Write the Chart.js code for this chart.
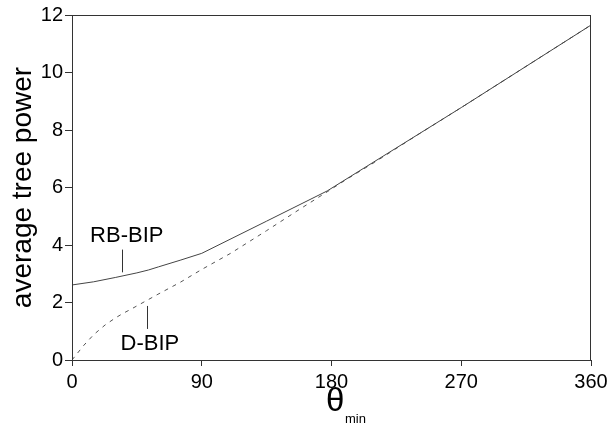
<!DOCTYPE html>
<html>
<head>
<meta charset="utf-8">
<script src="https://cdn.jsdelivr.net/npm/chart.js@4/dist/chart.umd.min.js"></script>
<style>
  html, body { margin: 0; padding: 0; background: #fff; }
  #wrap { width: 609px; height: 428px; }
</style>
</head>
<body>
<div id="wrap"><canvas id="treeChart" width="609" height="428"></canvas></div>
<script>
// values
const rbTheta = [0, 15, 30, 45, 53, 60, 75, 90, 135, 177, 270, 360];
const rbPower = [2.61, 2.72, 2.87, 3.03, 3.13, 3.24, 3.47, 3.71, 4.83, 5.88, 8.78, 11.65];

const dTheta = [0, 8, 15, 23, 30, 35, 41, 50, 59, 75, 90, 110, 135, 160, 177, 190, 210, 240, 270, 360];
const dPower = [0, 0.5, 0.88, 1.22, 1.46, 1.61, 1.77, 2.02, 2.27, 2.7, 3.15, 3.71, 4.5, 5.31, 5.85, 6.27, 6.88, 7.84, 8.78, 11.65];

const xTicks = [0, 90, 180, 270, 360];
const yTicks = [0, 2, 4, 6, 8, 10, 12];

// label text, anchor in data units, leader line ends in data units
const labels = [
  { text: "RB-BIP", x: 38, y: 4.3, lx: 34.5, ly1: 3.84, ly2: 3.05 },
  { text: "D-BIP", x: 54, y: 0.55, lx: 52, ly1: 1.88, ly2: 1.08 }
];

const FONT = "'Liberation Sans', Arial, Helvetica, sans-serif";

function toPoints(xs, ys) {
  return xs.map((x, i) => ({ x: x, y: ys[i] }));
}

const framePlugin = {
  id: "frame",
  afterDraw(chart) {
    const ctx = chart.ctx;
    const a = chart.chartArea;
    const xs = chart.scales.x;
    const ys = chart.scales.y;
    ctx.save();
    ctx.strokeStyle = "#333";
    ctx.lineWidth = 1;
    ctx.strokeRect(a.left + 0.5, a.top + 0.5, a.right - a.left - 1, a.bottom - a.top);

    // curve labels with leader lines
    ctx.fillStyle = "#000";
    ctx.font = "22px " + FONT;
    ctx.textAlign = "center";
    ctx.textBaseline = "middle";
    labels.forEach(l => {
      ctx.fillText(l.text, xs.getPixelForValue(l.x), ys.getPixelForValue(l.y));
      const px = Math.round(xs.getPixelForValue(l.lx)) + 0.5;
      ctx.beginPath();
      ctx.moveTo(px, ys.getPixelForValue(l.ly1));
      ctx.lineTo(px, ys.getPixelForValue(l.ly2));
      ctx.stroke();
    });

    // x axis title: theta with subscript "min"
    ctx.textAlign = "left";
    ctx.textBaseline = "alphabetic";
    ctx.font = "33px " + FONT;
    ctx.fillText("θ", 326, 411);
    ctx.font = "13px " + FONT;
    ctx.fillText("min", 345, 423);
    ctx.restore();
  }
};

new Chart(document.getElementById("treeChart"), {
  type: "scatter",
  data: {
    datasets: [
      {
        label: "RB-BIP",
        data: toPoints(rbTheta, rbPower),
        showLine: true,
        borderColor: "#444",
        borderWidth: 1,
        pointRadius: 0,
        tension: 0
      },
      {
        label: "D-BIP",
        data: toPoints(dTheta, dPower),
        showLine: true,
        borderColor: "#555",
        borderWidth: 1,
        borderDash: [4, 5],
        pointRadius: 0,
        tension: 0
      }
    ]
  },
  options: {
    responsive: false,
    animation: false,
    layout: { autoPadding: false, padding: { top: 15, right: 18, left: 0, bottom: 0 } },
    plugins: {
      legend: { display: false },
      tooltip: { enabled: false }
    },
    scales: {
      x: {
        type: "linear",
        min: 0,
        max: 360,
        afterBuildTicks: s => { s.ticks = xTicks.map(v => ({ value: v })); },
        afterFit: s => { s.height = 68; s.paddingLeft = 0; s.paddingRight = 0; },
        grid: { drawOnChartArea: false, tickLength: 6, color: "#333" },
        border: { color: "#333" },
        ticks: { color: "#000", padding: 4, font: { family: FONT, size: 20 }, maxRotation: 0 }
      },
      y: {
        type: "linear",
        min: 0,
        max: 12,
        afterBuildTicks: s => { s.ticks = yTicks.map(v => ({ value: v })); },
        afterFit: s => { s.width = 72; s.paddingTop = 0; s.paddingBottom = 0; },
        grid: { drawOnChartArea: false, tickLength: 7, color: "#333" },
        border: { color: "#333" },
        ticks: { color: "#000", padding: 2, font: { family: FONT, size: 20 } },
        title: {
          display: true,
          text: "average tree power",
          color: "#000",
          font: { family: FONT, size: 28 },
          padding: { top: 6, bottom: 0 }
        }
      }
    }
  },
  plugins: [framePlugin]
});
</script>
</body>
</html>
